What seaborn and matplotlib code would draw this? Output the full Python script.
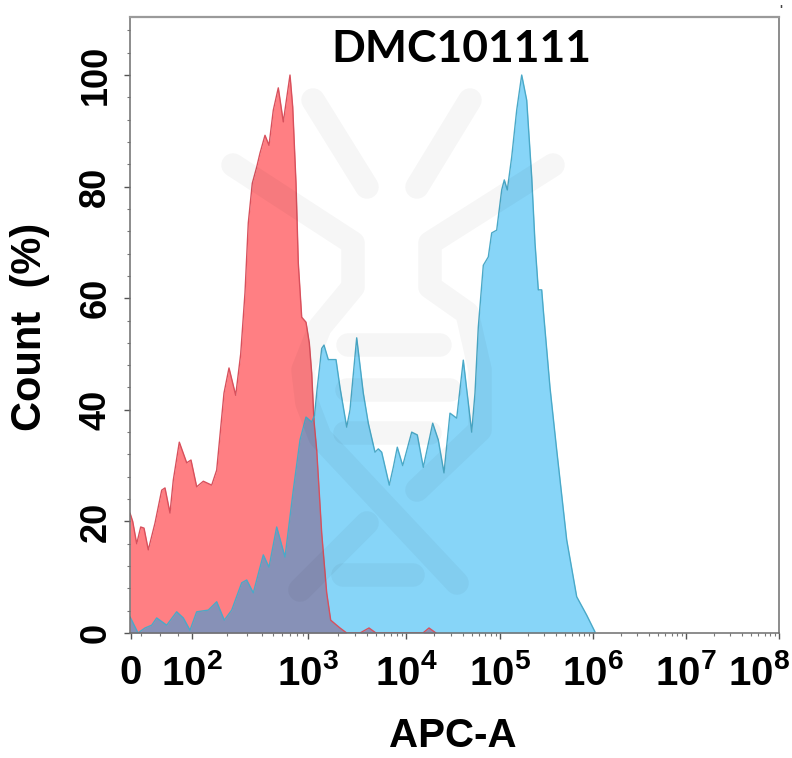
import matplotlib
matplotlib.use('Agg')
import matplotlib.pyplot as plt
from matplotlib import font_manager
from matplotlib.transforms import ScaledTranslation
import numpy as np
import pandas as pd
import seaborn as sns

# Histogram traces (x is the display channel of the biexponential axis)
red_channel = [0, 2.7, 6.7, 10.7, 14, 18.3, 25, 31.7, 35, 40, 43.3, 49.3, 56.7, 61, 66.7, 73.3, 81.7, 86.7,
               94, 99, 105.7, 110.7, 115, 118.3, 122.3, 126.7, 130, 135, 139, 143.3, 148.3, 153.3, 160, 162.7,
               166, 168.3, 171.7, 176, 179.3, 181.7, 184, 186.7, 191.7, 196.7, 200.7, 210, 216.7,
               230, 239, 246, 293, 299, 306]
red_count = [21.5, 20, 16, 19, 18.8, 14.9, 19.7, 25.6, 26, 21.5, 27.4, 34.2, 30.5, 31, 26.2, 27.2, 26.5, 29.2,
             43, 47.5, 42.6, 50, 61, 73.5, 80.6, 83.5, 86, 89.2, 87.4, 93.7, 97.7, 91.6, 100, 94.3,
             80.6, 66.3, 56.6, 55.7, 52, 46.6, 38, 32.8, 17.9, 7.2, 2.3, 0.9, 0,
             0, 0.9, 0, 0, 0.9, 0]

blue_channel = [0, 8, 15, 21.7, 26.7, 36.7, 46.7, 53.3, 60, 66.7, 78.3, 86.7, 94.3, 101.7, 111.7, 116.7, 123.3,
                133.3, 139, 146.7, 155, 163.3, 170, 176, 181.7, 184.5, 187, 191.7, 194, 198.3, 206, 210, 216.7,
                220, 226.7, 233.3, 238.3, 245, 248.3, 251.7, 259.3, 263.3, 267.3, 272.7, 281.7, 287.3, 293.3,
                302.7, 308.3, 314, 320, 326.7, 333.3, 341.7, 345, 348.3, 353.3, 358.3, 361.7, 366.7, 371.7,
                374.3, 377.3, 381.7, 386.7, 391.7, 396.7, 401.7, 405, 408.3, 411.7, 413.3, 420, 426.7, 436.7,
                446.7, 456.7, 465]
blue_count = [2.9, 0, 0.9, 1.4, 2.7, 1.4, 3.8, 2.7, 0.5, 3.8, 4.1, 5.6, 2.3, 4.1, 9, 9.5, 7.2,
              14, 11.8, 19, 13.6, 25.6, 34.6, 38.7, 37.8, 39, 43.5, 51, 51.6, 49, 49, 44, 36.9,
              40, 52.9, 43, 37.6, 32.4, 33, 32.4, 26.5, 29.7, 33.3, 30, 36, 35.5, 29.7,
              37.6, 34.6, 28.7, 39.4, 38.5, 48.9, 36, 43, 54.8, 65.9, 67.4, 71.7, 72.2, 79.4,
              81.2, 79.4, 85.3, 93.7, 100, 95.5, 81.7, 69.9, 61.5, 61.5, 57.9, 44, 32.8, 16.7,
              6.5, 3.2, 0.2]

# Axis labelling
x_tick_channels = [1, 62, 178, 276, 370, 463, 556, 649]
x_tick_labels = ['0', '2', '3', '4', '5', '6', '7', '8']
y_ticks = [0, 20, 40, 60, 80, 100]

# Faint antibody logo behind the data, in picture pixels
logo_paths = [
    [(313, 100), (367, 187)],
    [(470, 100), (417, 187)],
    [(233, 165), (353, 243), (353, 287), (320, 327), (303, 370), (307, 403), (320, 437), (457, 583)],
    [(553, 165), (430, 243), (430, 287), (467, 313), (480, 370), (480, 430), (417, 490)],
    [(367, 523), (300, 590)],
    [(348, 345), (440, 345)],
    [(347, 390), (450, 390)],
    [(345, 433), (430, 433)],
    [(343, 575), (413, 575)],
]

W, H = 792, 758

narrow = 'Liberation Sans Narrow'
names = {f.name for f in font_manager.fontManager.ttflist}
tick_family = narrow if narrow in names else 'Liberation Sans'

sns.set_theme(style='ticks')
plt.rcParams['font.family'] = ['Liberation Sans', 'DejaVu Sans']
plt.rcParams['mathtext.fontset'] = 'custom'
plt.rcParams['mathtext.bf'] = tick_family + ':bold'
plt.rcParams['mathtext.rm'] = tick_family + ':bold'

red_df = pd.DataFrame({'channel': red_channel, 'count': red_count})
blue_df = pd.DataFrame({'channel': blue_channel, 'count': blue_count})

fig = plt.figure(figsize=(W / 100, H / 100), dpi=100)
ax = fig.add_axes([130 / W, 1 - 633 / H, 649 / W, 616 / H])

ax.fill_between(red_df['channel'], red_df['count'], color=(1.0, 0.0, 0.03), alpha=0.5, linewidth=0)
sns.lineplot(data=red_df, x='channel', y='count', ax=ax, color='#d8505c', linewidth=1.0,
             sort=False, estimator=None)
ax.fill_between(blue_df['channel'], blue_df['count'], color=(0.0, 0.65, 0.95), alpha=0.47, linewidth=0)
sns.lineplot(data=blue_df, x='channel', y='count', ax=ax, color='#4aa9c8', linewidth=1.0,
             sort=False, estimator=None)

# logo sits over the fills, it darkens them slightly
for path in logo_paths:
    xs = [p[0] / W for p in path]
    ys = [1 - p[1] / H for p in path]
    fig.add_artist(plt.Line2D(xs, ys, transform=fig.transFigure, color='black', alpha=0.035,
                              linewidth=17, solid_capstyle='round', solid_joinstyle='round'))

ax.set_xlim(0, 649)
ax.set_ylim(0, 110.4)
ax.set_xlabel('')
ax.set_ylabel('')

# y axis
ax.set_yticks(y_ticks)
ax.set_yticks(np.arange(0, 110, 4), minor=True)
ax.set_yticklabels([str(v) for v in y_ticks], rotation=90, va='center', fontsize=26, fontweight='bold')

# x axis, minor ticks spaced like log decades
minor = []
for a, b in zip(x_tick_channels[1:-1], x_tick_channels[2:]):
    minor += [a + (b - a) * np.log10(k) for k in range(2, 10)]
minor += [x_tick_channels[0] + 10, 30, 48]
ax.set_xticks(x_tick_channels)
ax.set_xticks(minor, minor=True)
labels = ['0'] + [rf'$\mathbf{{10^{{{e}}}}}$' for e in x_tick_labels[1:]]
ax.set_xticklabels(labels, fontsize=29, fontweight='bold', family=[tick_family])

ax.tick_params(axis='both', which='major', length=4, width=1.0, color='#555555', labelcolor='black')
ax.tick_params(axis='y', which='major', pad=8)
ax.tick_params(axis='x', which='major', pad=11)
ax.tick_params(axis='both', which='minor', length=2, width=0.8, color='#777777')

tick_labels = ax.get_xticklabels()
tick_labels[-1].set_transform(tick_labels[-1].get_transform()
                              + ScaledTranslation(-20 / 100, 0, fig.dpi_scale_trans))

for side in ['left', 'right', 'bottom']:
    ax.spines[side].set_visible(True)
    ax.spines[side].set_color('#6e6e6e')
    ax.spines[side].set_linewidth(1.1)
ax.spines['top'].set_visible(True)
ax.spines['top'].set_color('#9a9a9a')
ax.spines['top'].set_linewidth(1.6)

fig.text(461 / W, 1 - 49 / H, 'DMC101111', ha='center', va='center', fontsize=32, fontweight='bold',
         family=['Lato', 'DejaVu Sans'], color='black')
fig.text(453 / W, 1 - 736 / H, 'APC-A', ha='center', va='center', fontsize=29, fontweight='bold', color='black')
fig.text(30 / W, 1 - 327 / H, 'Count  (%)', ha='center', va='center', rotation=90, fontsize=30,
         fontweight='bold', color='black')
fig.text(781 / W, 1 - 11 / H, "'", ha='center', va='center', fontsize=9, fontweight='bold', color='#444444')

fig.savefig('out.png', dpi=100)
